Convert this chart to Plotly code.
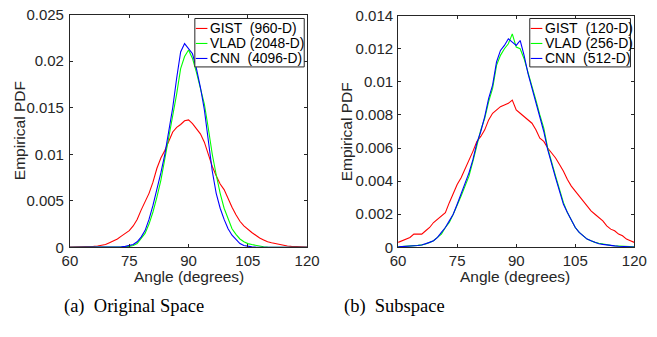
import plotly.graph_objects as go

W, H = 657, 337

angles = list(range(60, 121))

# (a) Original space
gist_960 = [0.00002, 0.00002, 0.00003, 0.00004, 0.00006, 0.00008, 0.0001, 0.00015, 0.0002, 0.0003,
            0.0005, 0.0007, 0.0009, 0.0012, 0.0015, 0.0018, 0.0023, 0.0030, 0.0040, 0.0049,
            0.0058, 0.0070, 0.0085, 0.0096, 0.0104, 0.0114, 0.0124, 0.0129, 0.0132, 0.0136,
            0.0137, 0.0133, 0.0128, 0.0122, 0.0113, 0.0100, 0.0087, 0.0077, 0.0068, 0.0062,
            0.0052, 0.0043, 0.0035, 0.0028, 0.0023, 0.0019, 0.0016, 0.0013, 0.0010, 0.0008,
            0.0006, 0.0005, 0.0004, 0.0003, 0.0002, 0.00015, 0.0001, 0.00007, 0.00005, 0.00003,
            0.00002]
vlad_2048 = [0.0, 0.0, 0.0, 0.0, 0.0, 0.0, 0.0, 0.0, 0.0, 0.0,
             0.00001, 0.00001, 0.00002, 0.00004, 0.00007, 0.0001, 0.0002, 0.0004, 0.0009, 0.0015,
             0.0025, 0.0038, 0.0054, 0.0072, 0.0095, 0.0118, 0.0140, 0.0165, 0.0192, 0.0205,
             0.0212, 0.0203, 0.0188, 0.0172, 0.0154, 0.0128, 0.0100, 0.0078, 0.0058, 0.0042,
             0.0030, 0.0020, 0.0014, 0.0009, 0.0006, 0.0004, 0.0003, 0.0002, 0.0001, 0.00006,
             0.00003, 0.00001, 0.00001, 0.0, 0.0, 0.0, 0.0, 0.0, 0.0, 0.0,
             0.0]
cnn_4096 = [0.0, 0.0, 0.0, 0.0, 0.0, 0.0, 0.0, 0.0, 0.0, 0.0,
            0.00001, 0.00002, 0.00003, 0.00005, 0.0001, 0.0002, 0.0003, 0.0006, 0.0011, 0.0018,
            0.0030, 0.0045, 0.0062, 0.0080, 0.0100, 0.0125, 0.0150, 0.0182, 0.0210, 0.0219,
            0.0214, 0.0208, 0.0192, 0.0172, 0.0148, 0.0115, 0.0082, 0.0058, 0.0042, 0.0030,
            0.0020, 0.0013, 0.0008, 0.0004, 0.0002, 0.0001, 0.00005, 0.00002, 0.00001, 0.0,
            0.0, 0.0, 0.0, 0.0, 0.0, 0.0, 0.0, 0.0, 0.0, 0.0,
            0.0]

# (b) Subspace
gist_120 = [0.0003, 0.0004, 0.0005, 0.0006, 0.0008, 0.0008, 0.0008, 0.0010, 0.0012, 0.0015,
            0.0017, 0.0019, 0.0021, 0.0027, 0.0033, 0.0038, 0.0042, 0.0047, 0.0052, 0.0058,
            0.0064, 0.0067, 0.0071, 0.0077, 0.0081, 0.0083, 0.0085, 0.0086, 0.0087, 0.0089,
            0.0083, 0.0081, 0.0079, 0.0077, 0.0075, 0.0071, 0.0066, 0.0064, 0.0060, 0.0057,
            0.0054, 0.0050, 0.0046, 0.0041, 0.0037, 0.0034, 0.0031, 0.0028, 0.0025, 0.0022,
            0.0020, 0.0018, 0.0016, 0.0013, 0.0011, 0.0010, 0.0008, 0.0007, 0.0005, 0.0004,
            0.0003]
vlad_256 = [0.00004, 0.00005, 0.00006, 0.00008, 0.0001, 0.00012, 0.00015, 0.0002, 0.0003, 0.0004,
            0.0006, 0.0008, 0.0012, 0.0015, 0.0020, 0.0025, 0.0031, 0.0037, 0.0043, 0.0052,
            0.0062, 0.0071, 0.0078, 0.0088, 0.0096, 0.0110, 0.0116, 0.0120, 0.0123, 0.0129,
            0.0121, 0.0120, 0.0114, 0.0106, 0.0097, 0.0089, 0.0080, 0.0072, 0.0060, 0.0051,
            0.0043, 0.0035, 0.0027, 0.0021, 0.0016, 0.0012, 0.0009, 0.0007, 0.0005, 0.0004,
            0.0003, 0.00025, 0.0002, 0.00015, 0.00012, 0.0001, 0.00008, 0.00006, 0.00005, 0.00004,
            0.00003]
cnn_512 = [0.00003, 0.00004, 0.00005, 0.00007, 0.00009, 0.00011, 0.00014, 0.0002, 0.0003, 0.0004,
           0.0006, 0.0009, 0.0012, 0.0016, 0.0020, 0.0026, 0.0032, 0.0038, 0.0045, 0.0053,
           0.0063, 0.0070, 0.0079, 0.0090, 0.0098, 0.0112, 0.0119, 0.0122, 0.0126, 0.0124,
           0.0122, 0.0125, 0.0116, 0.0105, 0.0096, 0.0088, 0.0078, 0.0070, 0.0059, 0.0050,
           0.0042, 0.0034, 0.0026, 0.0021, 0.0016, 0.0012, 0.0009, 0.0007, 0.0005, 0.0004,
           0.0003, 0.00022, 0.00018, 0.00014, 0.00011, 0.00009, 0.00007, 0.00005, 0.00004, 0.00003,
           0.00002]

legend_a = ["GIST\u00a0\u00a0(960-D)", "VLAD (2048-D)", "CNN\u00a0\u00a0(4096-D)"]
legend_b = ["GIST\u00a0\u00a0(120-D)", "VLAD (256-D)", "CNN\u00a0\u00a0(512-D)"]
colors = ["#FF0000", "#00FF00", "#0000FF"]
xticks = [60, 75, 90, 105, 120]
yticks_a = [0, 0.005, 0.01, 0.015, 0.02, 0.025]
yticks_a_text = ["0", "0.005", "0.01", "0.015", "0.02", "0.025"]
yticks_b = [0, 0.002, 0.004, 0.006, 0.008, 0.01, 0.012, 0.014]
yticks_b_text = ["0", "0.002", "0.004", "0.006", "0.008", "0.01", "0.012", "0.014"]
captions = ["(a)\u00a0 Original Space", "(b)\u00a0 Subspace"]

FONT = "Liberation Sans, Arial, Helvetica, sans-serif"
TXT = "#262626"

def px(x):
    return x / W

def py(y):
    return 1 - y / H

fig = go.Figure()
for series, name, col in zip([gist_960, vlad_2048, cnn_4096], legend_a, colors):
    fig.add_trace(go.Scatter(x=angles, y=series, mode="lines", line=dict(color=col, width=1.1),
                             name=name, xaxis="x", yaxis="y", showlegend=False))
for series, name, col in zip([gist_120, vlad_256, cnn_512], legend_b, colors):
    fig.add_trace(go.Scatter(x=angles, y=series, mode="lines", line=dict(color=col, width=1.1),
                             name=name, xaxis="x2", yaxis="y2", showlegend=False))

axis_common = dict(showgrid=False, zeroline=False, showline=True, linecolor=TXT, linewidth=1,
                   mirror="ticks", ticks="inside", ticklen=3, tickcolor=TXT, tickwidth=1,
                   ticklabeloverflow="allow",
                   tickfont=dict(family=FONT, size=15, color=TXT))

# pixel geometry of the axes
A = dict(x0=64, x1=309, y0=6, y1=251)
B = dict(x0=403, x1=647, y0=7, y1=251)
EPS = 1.000001

fig.update_layout(
    width=W, height=H, margin=dict(l=0, r=0, t=0, b=0),
    paper_bgcolor="white", plot_bgcolor="white", showlegend=False,
    xaxis=dict(domain=[px(A["x0"]), px(A["x1"])], range=[60, 120 * EPS], tickvals=xticks, anchor="y",
               **axis_common),
    yaxis=dict(domain=[py(A["y1"]), py(A["y0"])], range=[0, 0.025 * EPS], tickvals=yticks_a, ticktext=yticks_a_text,
               anchor="x", ticklabelstandoff=2, **axis_common),
    xaxis2=dict(domain=[px(B["x0"]), px(B["x1"])], range=[60, 120 * EPS], tickvals=xticks, anchor="y2",
                **axis_common),
    yaxis2=dict(domain=[py(B["y1"]), py(B["y0"])], range=[0, 0.014 * EPS], tickvals=yticks_b, ticktext=yticks_b_text,
                anchor="x2", ticklabelstandoff=1, **axis_common),
)

annotations = []
shapes = []
# axis titles
for cx, cy in [(187, 282), (524, 282)]:
    annotations.append(dict(x=px(cx), y=py(cy), xref="paper", yref="paper", text="Angle (degrees)",
                            showarrow=False, font=dict(family=FONT, size=15.5, color=TXT),
                            xanchor="center", yanchor="middle"))
for cx, cy in [(12, 128), (350, 129)]:
    annotations.append(dict(x=px(cx), y=py(cy), xref="paper", yref="paper", text="Empirical PDF",
                            showarrow=False, textangle=-90, font=dict(family=FONT, size=15.5, color=TXT),
                            xanchor="center", yanchor="middle"))
# captions
for cx, text in [(130, captions[0]), (399, captions[1])]:
    annotations.append(dict(x=px(cx), y=py(313), xref="paper", yref="paper", text=text, showarrow=False,
                            font=dict(family="Liberation Serif, Times New Roman, serif", size=18.5, color="#000"),
                            xanchor="center", yanchor="middle"))

# legends (drawn as boxes with line samples and text)
for (lx0, lx1, ly0, ly1, fs), names in [((193, 306, 10, 61, 13.8), legend_a), ((539, 643, 10, 61, 14.0), legend_b)]:
    shapes.append(dict(type="rect", xref="paper", yref="paper", x0=px(lx0), x1=px(lx1), y0=py(ly1), y1=py(ly0),
                       line=dict(color=TXT, width=1), fillcolor="white", layer="above"))
    for i, (name, col) in enumerate(zip(names, colors)):
        ry = 20.5 + i * 15.8
        shapes.append(dict(type="line", xref="paper", yref="paper", x0=px(lx0 + 1), x1=px(lx0 + 13),
                           y0=py(ry), y1=py(ry), line=dict(color=col, width=1.1), layer="above"))
        annotations.append(dict(x=px(lx0 + 13.5), y=py(ry), xref="paper", yref="paper", text=name,
                                showarrow=False, font=dict(family=FONT, size=fs, color="#000"),
                                xanchor="left", yanchor="middle"))

fig.update_layout(annotations=annotations, shapes=shapes)
fig.write_html("out.html")
